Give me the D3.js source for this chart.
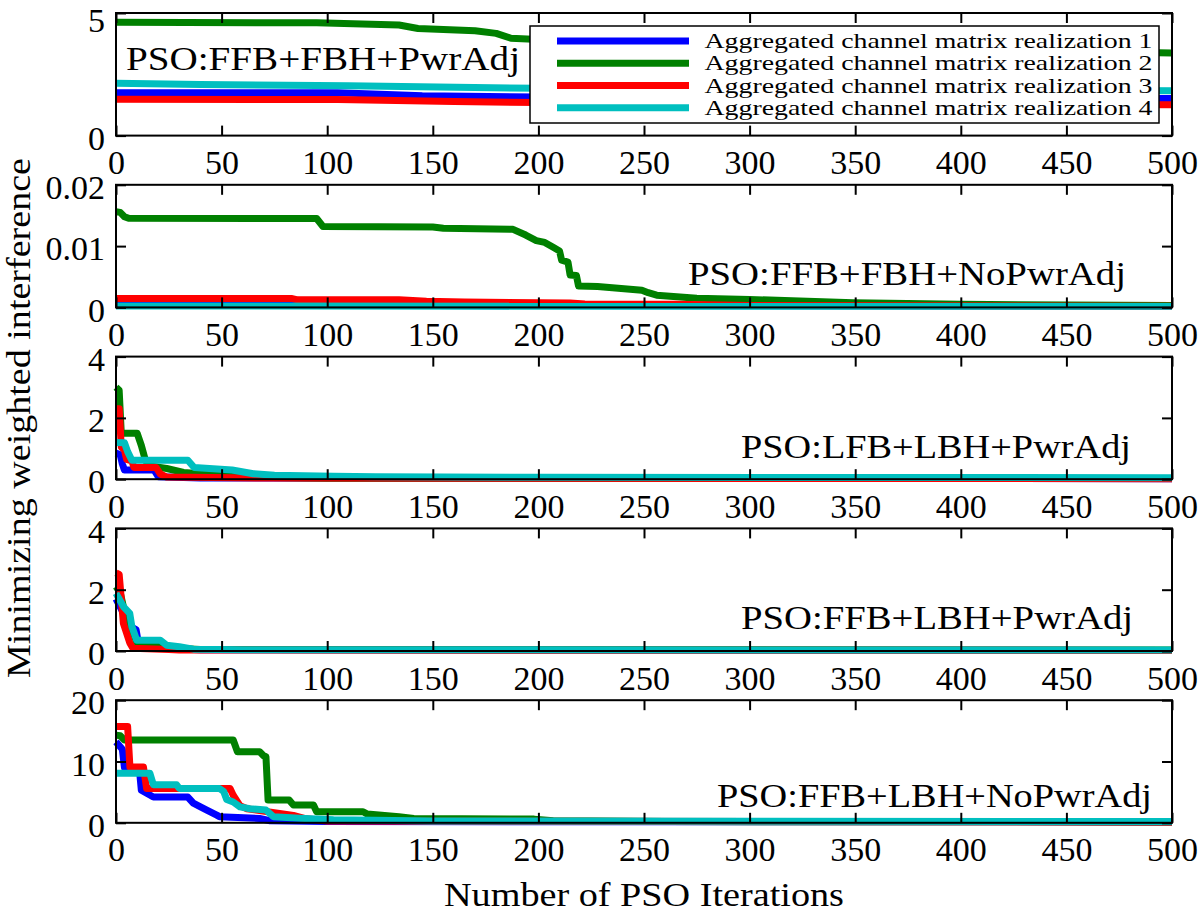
<!DOCTYPE html>
<html><head><meta charset="utf-8">
<script src="https://cdn.jsdelivr.net/npm/d3@7"></script>
<style>body{margin:0;background:#fff}svg{display:block}
svg text{font-family:"Liberation Serif","DejaVu Serif","Tinos","Nimbus Roman","Nimbus Roman No9 L","FreeSerif","Times New Roman","Times","Noto Serif","Noto Serif CJK SC",serif;}</style>
</head><body>
<svg id="chart" width="1200" height="915"></svg>
<script>
// ---------- data ----------
const iterTicks = [0,50,100,150,200,250,300,350,400,450,500];
const seriesNames = [
  "Aggregated channel matrix realization 1",
  "Aggregated channel matrix realization 2",
  "Aggregated channel matrix realization 3",
  "Aggregated channel matrix realization 4"
];
const panelTitles = [
  "PSO:FFB+FBH+PwrAdj",
  "PSO:FFB+FBH+NoPwrAdj",
  "PSO:LFB+LBH+PwrAdj",
  "PSO:FFB+LBH+PwrAdj",
  "PSO:FFB+LBH+NoPwrAdj"
];
const panelYMax = [5, 0.02, 4, 4, 20];
const panelYTicks = [[0,5],[0,0.01,0.02],[0,2,4],[0,2,4],[0,10,20]];
const panelYTickLabels = [["0","5"],["0","0.01","0.02"],["0","2","4"],["0","2","4"],["0","10","20"]];

// [iteration, value] pairs
const p1Real1 = [[0,1.75],[105,1.75],[145,1.63],[200,1.57],[350,1.54],[500,1.51]];
const p1Real2 = [[0,4.62],[95,4.6],[134,4.51],[143,4.37],[170,4.28],[180,4.17],[187,3.97],[200,3.92],[350,3.6],[500,3.37]];
const p1Real3 = [[0,1.48],[105,1.47],[160,1.39],[200,1.35],[350,1.3],[500,1.26]];
const p1Real4 = [[0,2.14],[40,2.08],[110,2.03],[200,1.93],[350,1.88],[500,1.83]];

const p2Real1 = [[0,0.0006],[138,0.0006],[150,0.0003],[500,0.0002]];
const p2Real2 = [[0,0.0156],[2,0.0155],[4,0.0148],[6,0.01453],[95,0.0145],[98,0.0132],[150,0.0131],[155,0.0129],[188,0.01273],[194,0.0118],[199,0.0109],[203,0.0106],[207,0.0098],[210,0.0092],[211,0.0077],[214,0.0074],[215,0.0053],[218,0.0052],[219,0.0035],[228,0.0034],[249,0.0028],[252,0.0024],[256,0.002],[275,0.0015],[300,0.0013],[349,0.00075],[400,0.0005],[450,0.0004],[500,0.0003]];
const p2Real3 = [[0,0.00147],[83,0.00147],[86,0.00124],[134,0.00124],[147,0.001],[165,0.00087],[215,0.0007],[222,0.00055],[265,0.0005],[300,0.0003],[500,0.0002]];
const p2Real4 = [[0,0.00022],[500,0.00018]];

const p3Real1 = [[0,0.85],[2,0.8],[3,0.5],[4,0.3],[18,0.3],[20,0.08],[40,0.04],[500,0.015]];
const p3Real2 = [[0,3.0],[1.5,2.9],[2.5,1.5],[10,1.5],[12,1.1],[14,0.6],[17,0.42],[24,0.35],[32,0.22],[45,0.15],[63,0.07],[100,0.03],[500,0.02]];
const p3Real3 = [[0,2.3],[1.5,2.3],[2.5,1.05],[4,0.95],[5,0.65],[7.5,0.6],[8.5,0.38],[19,0.38],[21,0.17],[24,0.07],[70,0.04],[500,0.015]];
const p3Real4 = [[0,1.2],[4,1.19],[5.5,0.9],[7.5,0.62],[34,0.62],[37,0.38],[55,0.3],[65,0.18],[75,0.13],[103,0.1],[123,0.08],[200,0.06],[500,0.05]];

const p4Real1 = [[0,1.7],[3,1.3],[6,0.95],[8,0.75],[9.5,0.7],[10.5,0.3],[20,0.25],[25,0.08],[40,0.04],[500,0.02]];
const p4Real2 = [[0,2.1],[2,1.9],[4,1.3],[7,0.8],[10,0.25],[21,0.22],[25,0.1],[40,0.05],[500,0.03]];
const p4Real3 = [[0,2.55],[1.5,2.5],[3.5,0.9],[6.5,0.27],[8,0.09],[25,0.05],[30,0.03],[500,0.02]];
const p4Real4 = [[0,1.88],[3.5,1.45],[6.5,1.23],[7.5,0.8],[9.8,0.35],[21,0.35],[24,0.19],[30,0.14],[36.6,0.06],[60,0.04],[500,0.03]];

const p5Real1 = [[0,13.2],[3,12],[4,9.0],[11,9.0],[12,5.3],[17.7,4.2],[34,4.2],[36.6,3.2],[40,2.6],[43,2.07],[47.7,1.25],[49,1.0],[68,0.7],[73,0.33],[100,0.2],[500,0.15]];
const p5Real2 = [[0,14.3],[2,14.2],[4,13.5],[55.5,13.5],[57.5,11.6],[68,11.6],[70,10.9],[71,10.8],[72,3.7],[82,3.7],[84,2.9],[93.5,2.9],[95,1.8],[117,1.8],[119,1.42],[134,1.0],[141,0.71],[198,0.6],[207,0.35],[260,0.2],[500,0.15]];
const p5Real3 = [[0,15.7],[5.5,15.7],[6.6,9.1],[13,9.1],[14.5,5.6],[54,5.6],[55.5,4.5],[58.7,2.8],[62,2.3],[84,1.2],[90,0.65],[100,0.3],[500,0.15]];
const p5Real4 = [[0,8.1],[16,8.1],[17.7,6.2],[28.7,6.2],[30,5.6],[49,5.6],[51,5.1],[52.4,3.8],[55.5,3.4],[58.7,2.6],[63.4,2.3],[71,2.07],[74.5,1.0],[87,0.75],[103,0.5],[150,0.3],[500,0.2]];

const panelSeries = [
  [p1Real1,p1Real2,p1Real3,p1Real4],
  [p2Real1,p2Real2,p2Real3,p2Real4],
  [p3Real1,p3Real2,p3Real3,p3Real4],
  [p4Real1,p4Real2,p4Real3,p4Real4],
  [p5Real1,p5Real2,p5Real3,p5Real4]
];

// ---------- styles / layout ----------
const colors = ["#0000ff","#008000","#ff0000","#00bfbf"];
const L = 116, R = 1172, TOP0 = 13, PH = 122.6, STEP = 171.8;
const TICK = 10;

const svg = d3.select("#chart");
const x = d3.scaleLinear().domain([0,500]).range([L,R]);

// annotation layout per panel: [anchor, x, baselineOffsetFromTop, textLength]
const annot = [["start",126,57,394],["end",1126,100.5,438],["end",1131,101,390],["end",1133,100.5,392],["end",1152,106.5,435]];

panelTitles.forEach((title,i)=>{
  const top = TOP0 + i*STEP, bot = top + PH;
  const y = d3.scaleLinear().domain([0,panelYMax[i]]).range([bot,top]);
  const g = svg.append("g");

  const line = d3.line().x(d=>x(d[0])).y(d=>y(d[1]));
  panelSeries[i].forEach((s,k)=>{
    g.append("path").attr("d",line(s)).attr("fill","none")
      .attr("stroke",colors[k]).attr("stroke-width",7)
      .attr("stroke-linejoin","round").attr("stroke-linecap","butt");
  });

  const ax = (sel)=>{sel.attr("font-family",null).attr("font-size",null);
    sel.select(".domain").remove();
    sel.selectAll(".tick line").attr("stroke","#000").attr("stroke-width",2);
    sel.selectAll("text").attr("font-size",34).attr("fill","#000");};
  g.append("g").attr("transform",`translate(0,${bot})`)
    .call(d3.axisBottom(x).tickValues(iterTicks).tickFormat(d3.format("d")).tickSize(-TICK).tickPadding(14.5))
    .call(ax);
  g.append("g").attr("transform",`translate(0,${top})`)
    .call(d3.axisTop(x).tickValues(iterTicks).tickFormat("").tickSize(-TICK))
    .call(ax);
  g.append("g").attr("transform",`translate(${L},0)`)
    .call(d3.axisLeft(y).tickValues(panelYTicks[i]).tickFormat((d,j)=>panelYTickLabels[i][j]).tickSize(-TICK).tickPadding(11))
    .call(ax).selectAll("text").attr("dy",(d,j)=> (i===0 && d===5) ? "0.55em" : "0.4em");
  g.append("g").attr("transform",`translate(${R},0)`)
    .call(d3.axisRight(y).tickValues(panelYTicks[i]).tickFormat("").tickSize(-TICK))
    .call(ax);

  g.append("rect").attr("x",L).attr("y",top).attr("width",R-L).attr("height",PH)
    .attr("fill","none").attr("stroke","#000").attr("stroke-width",2);

  const a = annot[i];
  g.append("text").attr("x",a[1]).attr("y",top+a[2]).attr("text-anchor",a[0])
    .attr("font-size",34)
    .attr("textLength",a[3]).attr("lengthAdjust","spacingAndGlyphs").text(title);

  if(i===0){
    const lg = svg.append("g");
    lg.append("rect").attr("x",530).attr("y",26).attr("width",629).attr("height",97)
      .attr("fill","#fff").attr("stroke","#000").attr("stroke-width",1.5);
    seriesNames.forEach((n,k)=>{
      const ry = 41 + k*22.25;
      lg.append("line").attr("x1",557).attr("x2",689).attr("y1",ry).attr("y2",ry)
        .attr("stroke",colors[k]).attr("stroke-width",7);
      lg.append("text").attr("x",704.5).attr("y",ry+7)
        .attr("font-size",21)
        .attr("textLength",448).attr("lengthAdjust","spacingAndGlyphs").text(n);
    });
  }
});

svg.append("text").attr("x",644).attr("y",906).attr("text-anchor","middle")
  .attr("font-size",34)
  .attr("textLength",400).attr("lengthAdjust","spacingAndGlyphs")
  .text("Number of PSO Iterations");
svg.append("text").attr("transform","translate(30,418) rotate(-90)").attr("text-anchor","middle")
  .attr("font-size",34)
  .attr("textLength",520).attr("lengthAdjust","spacingAndGlyphs")
  .text("Minimizing weighted interference");
</script>
</body></html>
